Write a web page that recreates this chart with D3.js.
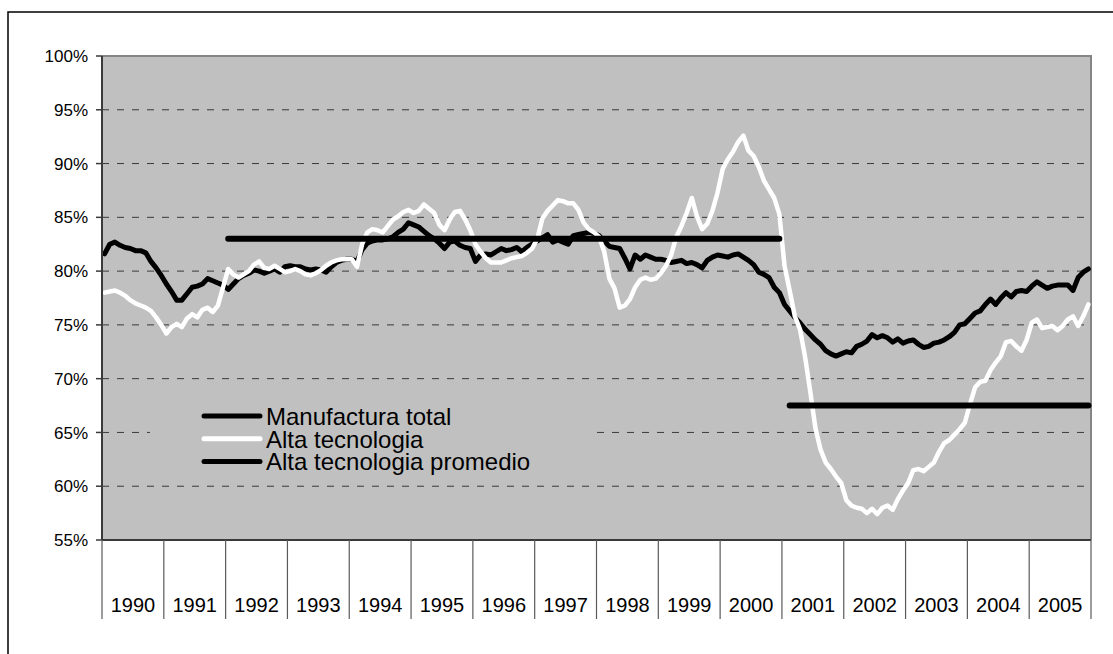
<!DOCTYPE html>
<html>
<head>
<meta charset="utf-8">
<script src="https://cdn.jsdelivr.net/npm/d3@7"></script>
<style>
    body { margin: 0; background: #fff; }
    svg text { font-family: "Liberation Sans", Arial, sans-serif; fill: #000; }
    .ylab { font-size: 17px; }
    .xlab { font-size: 20px; }
    .legend text { font-size: 24px; }
    .grid line { stroke: #3a3a3a; stroke-width: 1; stroke-dasharray: 7,8; }
    .series { fill: none; stroke-linejoin: round; stroke-linecap: round; }
</style>
</head>
<body>
<svg width="1113" height="654"></svg>
<script>
    // years shown on the category axis (monthly data, 12 points per year)
    const years = [1990, 1991, 1992, 1993, 1994, 1995, 1996, 1997,
                   1998, 1999, 2000, 2001, 2002, 2003, 2004, 2005];

    const yTicks = [55, 60, 65, 70, 75, 80, 85, 90, 95, 100];

    // Manufactura total (%), one row per year
    const manufactura = [
        81.6, 82.5, 82.7, 82.4, 82.2, 82.1, 81.9, 81.9, 81.7, 80.9, 80.3, 79.6,
        78.8, 78.1, 77.3, 77.3, 77.9, 78.5, 78.6, 78.8, 79.3, 79.1, 78.9, 78.7,
        78.3, 78.8, 79.3, 79.6, 79.8, 80.1, 80.0, 79.8, 80.0, 80.2, 79.9, 80.4,
        80.5, 80.4, 80.4, 80.2, 80.1, 80.2, 80.1, 79.9, 80.4, 80.8, 81.0, 81.1,
        81.1, 80.9, 82.0, 82.6, 82.8, 82.9, 82.9, 83.0, 83.2, 83.6, 83.9, 84.5,
        84.3, 84.1, 83.7, 83.3, 83.0, 82.6, 82.1, 82.7, 82.8, 82.4, 82.2, 82.1,
        80.9, 81.5, 81.6, 81.5, 81.8, 82.1, 81.9, 82.0, 82.2, 81.8, 82.2, 82.5,
        82.8, 83.1, 83.4, 82.7, 82.9, 82.7, 82.5, 83.3, 83.4, 83.5, 83.6, 83.5,
        83.3, 82.8, 82.3, 82.2, 82.1, 81.2, 80.2, 81.5, 81.1, 81.5, 81.3, 81.1,
        81.1, 81.0, 80.8, 80.9, 81.0, 80.7, 80.8, 80.6, 80.3, 81.0, 81.3, 81.5,
        81.4, 81.3, 81.5, 81.6, 81.3, 81.0, 80.6, 79.9, 79.7, 79.4, 78.5, 78.0,
        76.9, 76.3, 75.7, 75.2, 74.6, 74.1, 73.6, 73.2, 72.6, 72.3, 72.1, 72.3,
        72.5, 72.4, 73.0, 73.2, 73.5, 74.1, 73.8, 74.0, 73.8, 73.4, 73.7, 73.3,
        73.5, 73.6, 73.2, 72.9, 73.0, 73.3, 73.4, 73.6, 73.9, 74.3, 75.0, 75.1,
        75.6, 76.1, 76.3, 76.9, 77.4, 76.9, 77.5, 78.0, 77.6, 78.1, 78.2, 78.1,
        78.6, 79.0, 78.7, 78.4, 78.6, 78.7, 78.7, 78.7, 78.2, 79.4, 79.9, 80.2
    ];

    // Alta tecnologia (%)
    const altaTecnologia = [
        78.0, 78.1, 78.2, 78.0, 77.7, 77.3, 77.0, 76.8, 76.6, 76.3, 75.7, 75.0,
        74.2, 74.8, 75.1, 74.8, 75.6, 76.0, 75.7, 76.4, 76.6, 76.2, 76.8, 78.5,
        80.2, 79.7, 79.4, 79.7, 80.0, 80.6, 80.9, 80.3, 80.2, 80.5, 80.2, 79.9,
        80.0, 80.2, 80.0, 79.7, 79.6, 79.8, 80.1, 80.5, 80.8, 81.0, 81.1, 81.1,
        81.1, 80.4, 82.5, 83.6, 83.9, 83.8, 83.6, 84.2, 84.8, 85.1, 85.5, 85.7,
        85.4, 85.6, 86.2, 85.8, 85.4, 84.3, 83.8, 84.8, 85.5, 85.6, 84.8, 83.8,
        82.5, 81.8, 81.2, 80.8, 80.8, 80.8, 81.0, 81.2, 81.3, 81.4, 81.7, 82.1,
        83.0, 84.9, 85.6, 86.1, 86.6, 86.5, 86.3, 86.3, 85.7, 84.5, 83.9, 83.6,
        83.2, 81.8, 79.3, 78.4, 76.6, 76.8, 77.4, 78.5, 79.2, 79.4, 79.2, 79.3,
        79.8, 80.5, 81.5, 83.2, 84.2, 85.4, 86.8, 85.1, 83.9, 84.4, 85.6, 87.3,
        89.5, 90.4, 91.1, 92.0, 92.6, 91.2, 90.7, 89.7, 88.4, 87.6, 86.8, 85.3,
        80.5, 78.2, 75.8, 74.6, 72.0, 68.8, 65.4, 63.4, 62.2, 61.6, 60.9, 60.3,
        58.7, 58.2, 58.0, 57.9, 57.5, 57.9, 57.4, 58.0, 58.2, 57.8, 58.8, 59.6,
        60.3, 61.5, 61.6, 61.4, 61.8, 62.2, 63.2, 64.0, 64.3, 64.8, 65.3, 65.9,
        67.6, 69.2, 69.7, 69.8, 70.8, 71.5, 72.1, 73.4, 73.5, 73.0, 72.6, 73.6,
        75.2, 75.5, 74.7, 74.8, 74.9, 74.5, 74.9, 75.5, 75.8, 74.9, 75.8, 76.9
    ];

    // Alta tecnologia promedio: average over each period
    const promedio = [
        {from: "1992-01", to: "2000-12", value: 83.0},
        {from: "2001-02", to: "2005-12", value: 67.5}
    ];

    const legendLabels = ["Manufactura total", "Alta tecnologia", "Alta tecnologia promedio"];
    const legendColors = ["#000", "#fff", "#000"];

    // plot area
    const plotLeft = 102, plotRight = 1091, plotTop = 56, plotBottom = 540;

    const svg = d3.select("svg");

    const months = d3.range(years.length * 12);
    const x = d3.scaleBand().domain(months).range([plotLeft, plotRight]);
    const xYear = d3.scaleBand().domain(years).range([plotLeft, plotRight]);
    const y = d3.scaleLinear().domain([55, 100]).range([plotBottom, plotTop]);
    const mx = i => x(i) + x.bandwidth() / 2;
    const monthIndex = s => (+s.slice(0, 4) - years[0]) * 12 + (+s.slice(5) - 1);

    // outer chart frame (runs off the picture at right and bottom)
    svg.append("path")
        .attr("d", "M8,670V12H1125")
        .attr("fill", "none")
        .attr("stroke", "#000")
        .attr("stroke-width", 1.5);

    // plot background
    svg.append("rect")
        .attr("x", plotLeft).attr("y", plotTop)
        .attr("width", plotRight - plotLeft).attr("height", plotBottom - plotTop)
        .attr("fill", "#c0c0c0");

    // gridlines
    svg.append("g").attr("class", "grid")
        .selectAll("line")
        .data(yTicks.filter(d => d > 55 && d < 100))
        .join("line")
        .attr("x1", plotLeft).attr("x2", plotRight)
        .attr("y1", d => y(d)).attr("y2", d => y(d));

    // plot border top / right
    svg.append("path")
        .attr("d", `M${plotLeft},${plotTop}H${plotRight}V${plotBottom}`)
        .attr("fill", "none")
        .attr("stroke", "#858585")
        .attr("stroke-width", 2);

    // legend box (hides gridline behind it)
    const legend = svg.append("g").attr("class", "legend");
    legend.append("rect")
        .attr("x", 150).attr("y", 398)
        .attr("width", 442).attr("height", 80)
        .attr("fill", "#c0c0c0");

    const line = d3.line()
        .x((d, i) => mx(i))
        .y(d => y(d));

    svg.append("path")
        .datum(manufactura)
        .attr("class", "series")
        .attr("stroke", "#000")
        .attr("stroke-width", 5)
        .attr("d", line);

    svg.append("path")
        .datum(altaTecnologia)
        .attr("class", "series")
        .attr("stroke", "#fff")
        .attr("stroke-width", 4.5)
        .attr("d", line);

    svg.selectAll(".prom")
        .data(promedio)
        .join("line")
        .attr("class", "series prom")
        .attr("stroke", "#000")
        .attr("stroke-width", 6)
        .attr("x1", d => mx(monthIndex(d.from)))
        .attr("x2", d => mx(monthIndex(d.to)))
        .attr("y1", d => y(d.value))
        .attr("y2", d => y(d.value));

    // y axis
    svg.append("line")
        .attr("x1", plotLeft).attr("x2", plotLeft)
        .attr("y1", plotTop).attr("y2", plotBottom)
        .attr("stroke", "#3a3a3a").attr("stroke-width", 2);
    svg.append("g")
        .selectAll("line")
        .data(yTicks)
        .join("line")
        .attr("x1", plotLeft - 6).attr("x2", plotLeft)
        .attr("y1", d => y(d)).attr("y2", d => y(d))
        .attr("stroke", "#3a3a3a").attr("stroke-width", 1.5);
    svg.append("g")
        .selectAll("text")
        .data(yTicks)
        .join("text")
        .attr("class", "ylab")
        .attr("x", 88)
        .attr("y", d => y(d))
        .attr("dy", "0.36em")
        .attr("text-anchor", "end")
        .text(d => d3.format(".0%")(d / 100));

    // category axis: year cells
    svg.append("line")
        .attr("x1", plotLeft).attr("x2", plotRight)
        .attr("y1", plotBottom).attr("y2", plotBottom)
        .attr("stroke", "#3a3a3a").attr("stroke-width", 2);
    svg.append("g")
        .selectAll("line")
        .data(years.concat([null]))
        .join("line")
        .attr("x1", d => d === null ? plotRight : xYear(d))
        .attr("x2", d => d === null ? plotRight : xYear(d))
        .attr("y1", plotBottom).attr("y2", 619)
        .attr("stroke", "#5a5a5a").attr("stroke-width", 1.2);
    svg.append("g")
        .selectAll("text")
        .data(years)
        .join("text")
        .attr("class", "xlab")
        .attr("x", d => xYear(d) + xYear.bandwidth() / 2)
        .attr("y", 612)
        .attr("text-anchor", "middle")
        .text(d => d);

    // legend entries
    const entry = legend.selectAll("g.entry")
        .data(legendLabels)
        .join("g")
        .attr("class", "entry")
        .attr("transform", (d, i) => `translate(0,${416 + i * 22.7})`);
    entry.append("line")
        .attr("x1", 204).attr("x2", 260)
        .attr("stroke", (d, i) => legendColors[i])
        .attr("stroke-width", 5)
        .attr("stroke-linecap", "round");
    entry.append("text")
        .attr("x", 266)
        .attr("y", 9)
        .text(d => d);
</script>
</body>
</html>
